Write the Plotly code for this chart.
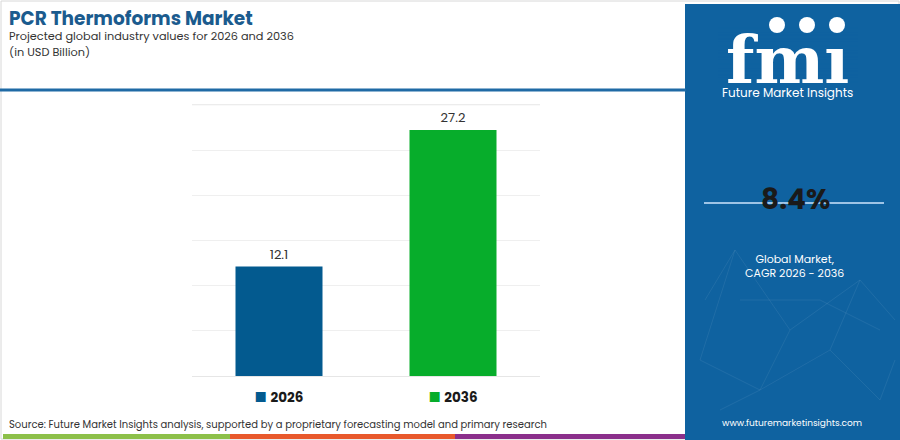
import plotly.graph_objects as go

# ---- data ----
categories = ["2026", "2036"]
values = [12.1, 27.2]
bar_colors = ["#035a8f", "#07ad2b"]
value_labels = ["12.1", "27.2"]
cagr_text = "8.4%"

W, H = 900, 440
L, R, T, B = 192, 360, 103, 64
PW, PH = W - L - R, H - T - B

def px(x):
    return (x - L) / PW

def py(y):
    return (H - B - y) / PH

FONT = "Poppins, Inter, 'Open Sans', sans-serif"
PANEL = "#0f62a0"

tick_text = [
    f"<span style='color:{c}'>■</span> <b>{cat}</b>" for c, cat in zip(bar_colors, categories)
]

fig = go.Figure(
    go.Bar(
        x=categories,
        y=values,
        marker=dict(color=bar_colors, line=dict(width=0)),
        width=0.5,
        text=value_labels,
        textposition="outside",
        textfont=dict(size=13, color="#333333", family=FONT),
        cliponaxis=False,
        showlegend=False,
    )
)

shapes = []
# outer light border of left panel
shapes.append(dict(type="rect", xref="paper", yref="paper", x0=px(1), x1=px(899), y0=py(1), y1=py(439),
                   line=dict(color="#d8d8d8", width=1), layer="below"))
# header underline
shapes.append(dict(type="line", xref="paper", yref="paper", x0=px(0), x1=px(686), y0=py(90), y1=py(90),
                   line=dict(color="#1f6aa5", width=3)))
# right panel
shapes.append(dict(type="rect", xref="paper", yref="paper", x0=px(685), x1=px(900), y0=py(4), y1=py(440),
                   fillcolor=PANEL, line=dict(width=0), layer="below"))
# faint network lines in panel
net = [((705, 300), (735, 250)), ((735, 250), (790, 330)), ((790, 330), (860, 280)), ((860, 280), (895, 320)),
       ((700, 360), (760, 390)), ((760, 390), (830, 350)), ((830, 350), (880, 400)), ((735, 250), (700, 360)),
       ((790, 330), (760, 390)), ((860, 280), (830, 350)), ((720, 410), (760, 390)), ((880, 400), (895, 360)),
       ((740, 300), (820, 300)), ((820, 300), (880, 330))]
for (a, b) in net:
    shapes.append(dict(type="line", xref="paper", yref="paper", x0=px(a[0]), y0=py(a[1]), x1=px(b[0]), y1=py(b[1]),
                       line=dict(color="rgba(255,255,255,0.07)", width=1)))
# CAGR line
shapes.append(dict(type="line", xref="paper", yref="paper", x0=px(704), x1=px(884), y0=py(203), y1=py(203),
                   line=dict(color="#9ec4e6", width=2)))
# bottom colour strip
for x0, x1, c in [(3, 230, "#8dc04a"), (230, 455, "#e8592c"), (455, 685, "#8b2f8b")]:
    shapes.append(dict(type="rect", xref="paper", yref="paper", x0=px(x0), x1=px(x1), y0=py(434), y1=py(439),
                       fillcolor=c, line=dict(width=0)))
# top gridline at 30 drawn explicitly
shapes.append(dict(type="line", xref="paper", yref="y", x0=0, x1=1, y0=30, y1=30,
                   line=dict(color="#ececec", width=1), layer="above"))

annotations = []
def ann(x, y, text, size, color, xanchor="left", family=FONT, **kw):
    annotations.append(dict(xref="paper", yref="paper", x=px(x), y=py(y), text=text, showarrow=False,
                            xanchor=xanchor, yanchor="middle", font=dict(size=size, color=color, family=family), **kw))

ann(7, 18.5, "<b>PCR Thermoforms Market</b>", 18.5, "#1b5b8e")
ann(7, 36, "Projected global industry values for 2026 and 2036", 11.3, "#333333")
ann(7, 51.5, "(in USD Billion)", 11.3, "#333333")
ann(7, 424, "Source: Future Market Insights analysis, supported by a proprietary forecasting model and primary research", 10, "#333333")

ann(787, 60, "<b>fmı</b>", 66, "white", xanchor="center", family="'DejaVu Serif', serif")
ann(787, 93, "Future Market Insights", 12, "white", xanchor="center")
ann(795, 199, "<b>" + cagr_text + "</b>", 28, "#1a1a1a", xanchor="center")
ann(794, 266, "Global Market,<br>CAGR 2026 - 2036", 11, "white", xanchor="center")
ann(792, 423, "www.futuremarketinsights.com", 9, "white", xanchor="center")

fig.update_layout(
    width=W, height=H, autosize=False,
    margin=dict(l=L, r=R, t=T, b=B, pad=0),
    paper_bgcolor="white", plot_bgcolor="white",
    font=dict(family=FONT, color="#333333"),
    shapes=shapes, annotations=annotations,
    bargap=0.5,
    xaxis=dict(tickmode="array", tickvals=categories, ticktext=tick_text, ticks="",
               tickfont=dict(size=13.5, color="#1a1a1a", family=FONT), showgrid=False, zeroline=False,
               showline=False, fixedrange=True, ticklabelstandoff=11),
    yaxis=dict(range=[0, 30.2], tick0=0, dtick=5, showticklabels=False, showgrid=True, gridcolor="#efefef",
               gridwidth=1, zeroline=True, zerolinecolor="#e6e6e6", zerolinewidth=1, showline=False, fixedrange=True),
)

# logo stripes over letters
for i in range(16):
    yy = 28 + i * 3.6
    fig.add_shape(type="line", xref="paper", yref="paper", x0=px(718), x1=px(858), y0=py(yy), y1=py(yy),
                  line=dict(color=PANEL, width=1.1))
# logo globe circles
for cx in [777, 807, 837]:
    fig.add_shape(type="circle", xref="paper", yref="paper", x0=px(cx - 8), x1=px(cx + 8),
                  y0=py(17), y1=py(33), fillcolor="white", line=dict(width=0))

fig.write_html("out.html", config={"displayModeBar": False, "staticPlot": True},
               post_script="document.body.style.margin='0';")
